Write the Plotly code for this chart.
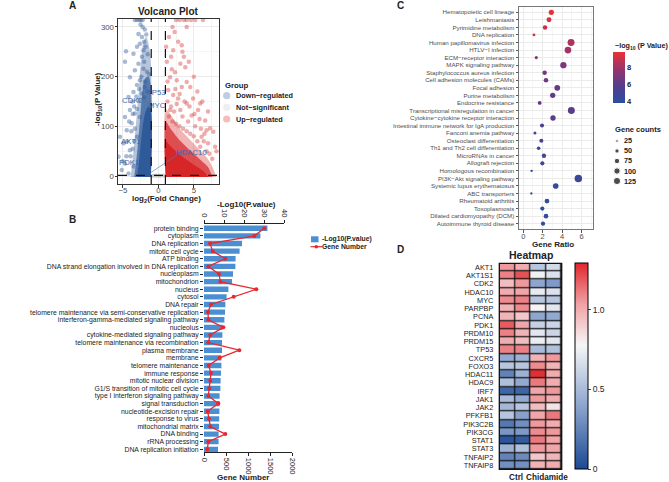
import plotly.graph_objects as go
import numpy as np

W, H = 669, 482
FONT = "Liberation Sans, Arial, sans-serif"


def fx(p):
    return p / W


def fy(p):
    return 1 - p / H


# ---------------- Panel A : volcano ----------------
down_x = [-3.3, -3.0, -2.7, -2.45, -2.2, -2.8, -2.3, -2.6, -3.0, -2.1, -4.55, -3.5, -2.3, -4.7, -2.8,
          -3.3, -2.1, -4.0, -2.6, -3.0, -1.9, -3.5, -2.3, -4.2, -2.8, -4.0, -3.3, -4.7, -2.6, -3.75,
          -4.45, -5.4, -3.0, -4.9, -4.0, -5.6, -4.7, -3.5, -5.15, -4.2, -1.8, -1.5, -2.0, -1.6, -1.3,
          -2.4, -1.9, -2.7, -1.5, -3.1, -2.0, -3.4, -3.0, -3.7, -2.2, -1.9, -2.5, -2.0, -1.7, -3.8,
          -3.4, -3.9, -3.6, -4.4, -3.3, -4.1, -3.6, -5.0, -4.5]
down_y = [314, 314, 314, 314, 314, 286, 280, 266, 260, 253, 251, 246, 240, 230, 226,
          213, 216, 199, 193, 183, 179, 169, 166, 159, 153, 133, 126, 119, 119, 106,
          92, 79, 79, 66, 52, 39, 25, 19, 12, 5, 260, 245, 230, 210, 205,
          200, 190, 175, 170, 160, 158, 140, 135, 150, 300, 295, 305, 270, 285, 90,
          70, 40, 55, 70, 95, 110, 125, 30, 40]
up_x = [2.5, 3.0, 3.6, 4.0, 4.6, 5.2, 6.3, 4.0, 3.3, 2.1, 3.4, 3.1, 3.8, 2.35, 1.65, 2.6, 4.0, 3.3,
        4.5, 1.4, 2.1, 2.8, 4.9, 4.0, 5.9, 5.6, 3.1, 1.65, 4.7, 6.6, 7.3, 6.8, 7.75, 6.1, 7.0, 8.0,
        5.9, 1.5, 2.0, 2.5, 3.0, 3.5, 4.0, 4.5, 5.0, 5.5, 2.2, 3.4, 4.2, 1.8, 2.6, 5.2, 6.0, 6.5,
        1.3, 1.2, 1.5, 2.0, 2.8, 3.6, 4.3, 5.0, 5.5, 6.2, 7.0, 1.1, 2.4, 3.0, 3.7, 4.4, 5.1, 5.8,
        6.4, 7.2, 7.6, 6.8, 8.2, 1.8, 2.3, 1.3, 1.9]
up_y = [314, 314, 314, 314, 314, 314, 314, 300, 263, 253, 250, 226, 219, 209, 199, 193, 189, 179,
        179, 173, 163, 156, 156, 146, 146, 133, 133, 133, 122, 112, 96, 92, 89, 79, 66, 59,
        59, 120, 110, 105, 100, 95, 90, 85, 80, 70, 130, 120, 110, 140, 145, 100, 95, 85,
        150, 230, 280, 300, 270, 240, 230, 200, 170, 150, 130, 260, 175, 165, 150, 140, 125, 115,
        70, 45, 35, 50, 50, 240, 290, 190, 215]
ns_x = [-0.8, -0.5, -0.2, 0.1, 0.4, 0.7, -0.9, 0.9, -0.3, 0.2]
ns_y = [0.5, 0.9, 0.3, 1.0, 0.6, 1.1, 0.2, 0.4, 1.2, 0.1]

# outlines of the densely packed parts of each group
down_outer_x = [-1.05, -1.05, -1.3, -1.7, -2.1, -2.4, -2.7, -3.0, -3.3, -3.6, -3.9]
down_outer_y = [-2, 230, 260, 280, 270, 235, 180, 130, 80, 35, -2]
down_mid_x = [-1.05, -1.05, -1.4, -1.9, -2.3, -2.6, -2.9, -3.2, -3.4]
down_mid_y = [-2, 180, 200, 195, 160, 110, 60, 20, -2]
down_core_x = [-1.05, -1.05, -1.4, -1.8, -2.2, -2.5, -2.8, -3.0]
down_core_y = [-2, 130, 140, 130, 100, 60, 20, -2]
up_outer_x = [1.05, 1.05, 1.4, 2.0, 2.6, 3.2, 4.0, 5.0, 6.0, 6.8, 7.5, 8.0, 8.1]
up_outer_y = [-2, 135, 130, 118, 105, 92, 80, 65, 50, 38, 22, 5, -2]
up_mid_x = [1.05, 1.05, 1.5, 2.0, 3.0, 4.0, 5.0, 6.0, 7.0, 7.6]
up_mid_y = [-2, 110, 100, 90, 72, 58, 45, 32, 18, -2]
up_core_x = [1.05, 1.05, 1.6, 2.5, 3.5, 4.5, 5.5, 6.5, 7.0]
up_core_y = [-2, 70, 62, 50, 38, 28, 18, 8, -2]

label_genes = ["TP53", "MYC", "CDK2", "AKT1", "PDK1", "HDAC10"]
label_x = [-0.23, -0.23, -3.63, -3.89, -4.13, 4.7]
label_y = [169, 141, 153, 70, 27, 47]
seg_x = [-1.15, 3.0]
seg_y = [6, 46]

# ---------------- Panel B : GO bars ----------------
go_terms = ["protein binding", "cytoplasm", "DNA replication", "mitotic cell cycle", "ATP binding",
            "DNA strand elongation involved in DNA replication", "nucleoplasm", "mitochondrion",
            "nucleus", "cytosol", "DNA repair",
            "telomere maintenance via semi-conservative replication",
            "interferon-gamma-mediated signaling pathway", "nucleolus",
            "cytokine-mediated signaling pathway", "telomere maintenance via recombination",
            "plasma membrane", "membrane", "telomere maintenance", "immune response",
            "mitotic nuclear division", "G1/S transition of mitotic cell cycle",
            "type I interferon signaling pathway", "signal transduction",
            "nucleotide-excision repair", "response to virus", "mitochondrial matrix",
            "DNA binding", "rRNA processing", "DNA replication initiation"]
go_logp = [31.7, 28.2, 19.0, 17.8, 15.8, 15.7, 14.5, 14.0, 12.2, 11.3, 10.7, 10.5, 10.2, 9.3, 9.2,
           9.0, 9.0, 8.7, 8.7, 8.5, 8.3, 8.2, 7.8, 7.8, 7.7, 7.6, 7.5, 7.3, 7.3, 7.0]
go_genes = [1366, 1140, 136, 196, 483, 98, 340, 370, 1185, 672, 158, 90, 98, 438, 143, 98, 800,
            355, 105, 158, 143, 120, 98, 325, 83, 113, 143, 483, 98, 75]

# ---------------- Panel C : KEGG dots ----------------
kegg_terms = ["Hematopoietic cell lineage", "Leishmaniasis", "Pyrimidine metabolism",
              "DNA replication", "Human papillomavirus infection", "HTLV\u2212I infection",
              "ECM\u2212receptor interaction", "MAPK signaling pathway",
              "Staphylococcus aureus infection", "Cell adhesion molecules (CAMs)",
              "Focal adhesion", "Purine metabolism", "Endocrine resistance",
              "Transcriptional misregulation in cancer",
              "Cytokine\u2212cytokine receptor interaction",
              "Intestinal immune network for IgA production", "Fanconi anemia pathway",
              "Osteoclast differentiation", "Th1 and Th2 cell differentiation",
              "MicroRNAs in cancer", "Allograft rejection", "Homologous recombination",
              "PI3K\u2212Akt signaling pathway", "Systemic lupus erythematosus",
              "ABC transporters", "Rheumatoid arthritis", "Toxoplasmosis",
              "Dilated cardiomyopathy (DCM)", "Autoimmune thyroid disease"]
kegg_ratio = [2.89, 2.65, 2.24, 1.1, 4.92, 4.6, 1.34, 4.13, 2.2, 2.34, 3.5, 3.03, 1.69, 4.95, 3.06,
              1.93, 1.2, 1.86, 1.58, 2.13, 1.96, 0.86, 5.67, 3.34, 0.83, 2.44, 1.96, 2.34, 2.03]
kegg_count = [69, 64, 54, 26, 118, 110, 32, 99, 53, 56, 84, 73, 41, 119, 73, 46, 29, 45, 38, 51,
              47, 21, 136, 80, 20, 59, 47, 56, 49]
kegg_logp = [9.6, 9.3, 9.0, 9.2, 8.3, 8.0, 7.3, 7.0, 6.7, 6.6, 6.4, 6.2, 6.0, 5.9, 5.8, 5.5, 5.3,
             5.2, 5.0, 4.9, 4.8, 4.6, 4.5, 4.4, 4.3, 4.2, 4.1, 4.0, 3.9]
size_legend = [25, 50, 75, 100, 125]

# ---------------- Panel D : heatmap ----------------
hm_genes = ["AKT1", "AKT1S1", "CDK2", "HDAC10", "MYC", "PARPBP", "PCNA", "PDK1", "PRDM10",
            "PRDM15", "TP53", "CXCR5", "FOXO3", "HDAC11", "HDAC9", "IRF7", "JAK1", "JAK2",
            "PFKFB1", "PIK3C2B", "PIK3CG", "STAT1", "STAT3", "TNFAIP2", "TNFAIP8"]
hm_groups = ["Ctrl", "Chidamide"]
hm_values = [
    [1.05, 1.00, 0.55, 0.65],
    [1.10, 1.20, 0.75, 0.68],
    [0.95, 1.05, 0.40, 0.35],
    [1.00, 1.02, 0.72, 0.68],
    [1.08, 1.10, 0.55, 0.55],
    [0.98, 1.08, 0.78, 0.70],
    [0.98, 0.92, 0.40, 0.42],
    [1.18, 1.02, 0.60, 0.62],
    [1.10, 0.98, 0.70, 0.62],
    [1.00, 0.95, 0.73, 0.70],
    [1.10, 1.10, 0.50, 0.52],
    [0.42, 0.45, 0.98, 1.05],
    [0.55, 0.55, 1.08, 0.98],
    [0.25, 0.45, 1.27, 1.00],
    [0.52, 0.42, 1.12, 1.00],
    [0.12, 0.12, 1.02, 1.05],
    [0.50, 0.42, 1.05, 1.00],
    [0.48, 0.55, 0.95, 0.83],
    [0.55, 0.38, 1.02, 1.12],
    [0.20, 0.30, 1.05, 1.00],
    [0.33, 0.35, 1.08, 1.05],
    [0.05, 0.08, 1.12, 1.02],
    [0.45, 0.52, 1.05, 1.02],
    [0.25, 0.28, 0.92, 0.97],
    [0.30, 0.30, 0.98, 1.00],
]

# ------------------------------------------------------------
fig = go.Figure()

DOWN = "rgba(45,88,152,{})"
UP = "rgba(214,36,38,{})"

# A traces
fig.add_trace(go.Scatter(x=ns_x, y=ns_y, mode="markers", marker=dict(size=4, color="rgba(190,190,190,0.5)"),
                         hoverinfo="skip", showlegend=False, xaxis="x", yaxis="y"))
polys = [(down_outer_x, down_outer_y, DOWN.format(0.35)), (up_outer_x, up_outer_y, UP.format(0.35)),
         (down_mid_x, down_mid_y, DOWN.format(0.7)), (up_mid_x, up_mid_y, UP.format(0.7)),
         (down_core_x, down_core_y, DOWN.format(0.95)), (up_core_x, up_core_y, UP.format(0.95))]
for px_, py_, col in polys:
    fig.add_trace(go.Scatter(x=px_, y=py_, fill="toself", fillcolor=col, line=dict(width=0), mode="lines",
                             line_shape="spline", hoverinfo="skip", showlegend=False, xaxis="x", yaxis="y"))
fig.add_trace(go.Scatter(x=down_x, y=down_y, mode="markers", marker=dict(size=4.5, color=DOWN.format(0.42)),
                         hoverinfo="skip", showlegend=False, xaxis="x", yaxis="y"))
fig.add_trace(go.Scatter(x=up_x, y=up_y, mode="markers", marker=dict(size=4.5, color=UP.format(0.38)),
                         hoverinfo="skip", showlegend=False, xaxis="x", yaxis="y"))
fig.add_trace(go.Scatter(x=seg_x, y=seg_y, mode="lines", line=dict(color="rgba(80,120,180,0.8)", width=0.8),
                         hoverinfo="skip", showlegend=False, xaxis="x", yaxis="y"))

# B traces
fig.add_trace(go.Bar(x=go_logp, y=go_terms, orientation="h", marker=dict(color="#4b8fd3", line=dict(width=0)),
                     width=0.7, showlegend=False, xaxis="x3", yaxis="y3"))
fig.add_trace(go.Scatter(x=go_genes, y=go_terms, mode="lines+markers", line=dict(color="#e8272e", width=1.3),
                         marker=dict(size=4, color="#e8272e"), showlegend=False, xaxis="x4", yaxis="y3"))

# C traces
cs_c = [[0, "#2b4ea0"], [0.35, "#573d8c"], [0.65, "#953370"], [1, "#ea3134"]]
diam = [float(np.sqrt(max(0.437 * c - 3.4, 1.0))) for c in kegg_count]
fig.add_trace(go.Scatter(x=kegg_ratio, y=kegg_terms, mode="markers",
                         marker=dict(size=diam, color=kegg_logp, colorscale=cs_c, cmin=3.75, cmax=9.8,
                                     line=dict(width=0), opacity=1,
                                     colorbar=dict(x=fx(613), xanchor="left", y=fy(52), yanchor="top",
                                                   len=51, lenmode="pixels", thickness=12,
                                                   thicknessmode="pixels", outlinewidth=0,
                                                   tickvals=[4, 6, 8], ticks="", xpad=0, ypad=0,
                                                   tickfont=dict(size=7.5, color="#222", weight="bold",
                                                                 family=FONT))),
                         showlegend=False, xaxis="x2", yaxis="y2"))
leg_diam = [float(np.sqrt(max(0.437 * c - 3.4, 1.0))) for c in size_legend]
fig.add_trace(go.Scatter(x=[0] * len(size_legend), y=list(range(len(size_legend))), mode="markers",
                         marker=dict(size=leg_diam, color="black"), hoverinfo="skip", showlegend=False,
                         xaxis="x6", yaxis="y6"))

# D heatmap
cs_d = [[0, "#1c4a93"], [0.3, "#8aa3cc"], [0.6, "#f6f6f7"], [0.8, "#f0a2a5"], [1, "#e0262c"]]
fig.add_trace(go.Heatmap(z=hm_values, x=[0, 1, 2, 3], y=hm_genes, colorscale=cs_d, zmin=0, zmax=1.29,
                         xgap=1.2, ygap=1.2,
                         colorbar=dict(x=fx(575), xanchor="left", y=fy(263.3), yanchor="top", len=206,
                                       lenmode="pixels", thickness=12.7, thicknessmode="pixels",
                                       outlinewidth=1, outlinecolor="#000", tickvals=[0, 0.5, 1.0],
                                       ticktext=["0", "0.5", "1.0"], ticks="outside", ticklen=3,
                                       xpad=0, ypad=0,
                                       tickfont=dict(size=8.5, color="#222", family=FONT)),
                         xaxis="x5", yaxis="y5"))

# ---------------- layout ----------------
GRID = "#ebebeb"
MINOR = "#f5f5f5"
layout = dict(
    width=W, height=H, margin=dict(l=0, r=0, t=0, b=0, pad=0), template="none",
    paper_bgcolor="white", plot_bgcolor="rgba(0,0,0,0)", font=dict(family=FONT, color="#222"),
    showlegend=False,
    xaxis=dict(domain=[fx(118), fx(219)], range=[-5.68, 8.55], anchor="y", tickvals=[-5, 0, 5],
               ticks="outside", ticklen=2.5, tickcolor="#333", showgrid=True, gridcolor=GRID,
               ticklabelstandoff=-4,
               minor=dict(tickvals=[-2.5, 2.5, 7.5], showgrid=True, gridcolor=MINOR, ticks=""),
               showline=True, mirror=True, linecolor="#333", linewidth=1, zeroline=False,
               tickfont=dict(size=7.8, color="#4d4d4d"), automargin=False),
    yaxis=dict(domain=[fy(184), fy(19)], range=[-16, 316], anchor="x", tickvals=[0, 100, 200, 300],
               ticks="outside", ticklen=2.5, tickcolor="#333", showgrid=True, gridcolor=GRID,
               ticklabelstandoff=-1,
               minor=dict(tickvals=[50, 150, 250], showgrid=True, gridcolor=MINOR, ticks=""),
               showline=True, mirror=True, linecolor="#333", linewidth=1, zeroline=False,
               tickfont=dict(size=7.8, color="#4d4d4d"), automargin=False),
    xaxis2=dict(domain=[fx(519), fx(593)], range=[-0.44, 7.18], anchor="y2", tickvals=[0, 2, 4, 6],
                ticks="outside", ticklen=2.5, tickcolor="#555", showgrid=True, gridcolor=GRID,
                ticklabelstandoff=-3,
                minor=dict(tickvals=[1, 3, 5, 7], showgrid=True, gridcolor=MINOR, ticks=""),
                showline=True, mirror=True, linecolor="#777", linewidth=1, zeroline=False,
                tickfont=dict(size=7.5, color="#4d4d4d"), automargin=False),
    yaxis2=dict(domain=[fy(229), fy(7)], range=[28.7, -0.7], anchor="x2", type="category",
                tickmode="array", tickvals=kegg_terms, ticktext=kegg_terms,
                ticks="outside", ticklen=2.5, tickcolor="#555", showgrid=True, gridcolor=GRID,
                showline=True, mirror=True, linecolor="#777", linewidth=1, zeroline=False,
                tickfont=dict(size=6.15, color="#4d4d4d"), automargin=False),
    xaxis3=dict(domain=[fx(204), fx(284)], range=[0, 40], anchor="y3", side="top",
                tickvals=[0, 10, 20, 30, 40], tickangle=90, ticks="outside", ticklen=3,
                tickcolor="#222", showline=True, linecolor="#222", linewidth=1, showgrid=False,
                zeroline=False, tickfont=dict(size=7.5, color="#222"), automargin=False),
    xaxis4=dict(domain=[fx(204), fx(292.3)], range=[0, 2000], anchor="y3", side="bottom",
                tickvals=[0, 500, 1000, 1500, 2000], tickangle=90, ticks="outside", ticklen=3,
                tickcolor="#222", showline=True, linecolor="#222", linewidth=1, showgrid=False,
                zeroline=False, tickfont=dict(size=7.5, color="#222"), automargin=False),
    yaxis3=dict(domain=[fy(452.3), fy(224)], range=[29.39, -0.56], anchor="x3", type="category",
                tickmode="array", tickvals=go_terms, ticktext=go_terms,
                ticks="outside", ticklen=3, tickcolor="#222", showline=False, showgrid=False,
                zeroline=False, tickfont=dict(size=6.85, color="#222"), automargin=False),
    xaxis5=dict(domain=[fx(499.3), fx(561.7)], range=[-0.5, 3.5], anchor="y5", showticklabels=False,
                ticks="", showgrid=False, zeroline=False, showline=False, automargin=False),
    yaxis5=dict(domain=[fy(469.3), fy(263.3)], range=[24.5, -0.5], anchor="x5", type="category",
                tickmode="array", tickvals=hm_genes, ticktext=hm_genes,
                ticks="", ticklabelstandoff=5, showgrid=False, zeroline=False, showline=False,
                tickfont=dict(size=7.3, color="#222"), automargin=False),
    xaxis6=dict(domain=[fx(610), fx(624)], range=[-1, 1], anchor="y6", visible=False),
    yaxis6=dict(domain=[fy(186), fy(136)], range=[4.5, -0.5], anchor="x6", visible=False),
)
fig.update_layout(**layout)

shapes = []
# volcano thresholds
for v in [-1, 1]:
    shapes.append(dict(type="line", xref="x", yref="y domain", x0=v, x1=v, y0=0, y1=1,
                       line=dict(color="#111", width=1.2, dash="dash")))
shapes.append(dict(type="line", xref="x domain", yref="y", x0=0, x1=1, y0=1.3, y1=1.3,
                   line=dict(color="#111", width=1.2, dash="dash")))
# heatmap black grid behind cells and frame
shapes.append(dict(type="rect", xref="x5 domain", yref="y5 domain", x0=0, x1=1, y0=0, y1=1,
                   fillcolor="#111", line=dict(width=0), layer="below"))
shapes.append(dict(type="rect", xref="x5 domain", yref="y5 domain", x0=0, x1=1, y0=0, y1=1,
                   line=dict(color="#111", width=1.3)))


def circ(cx, cy, r, color):
    return dict(type="circle", xref="paper", yref="paper", x0=fx(cx - r), x1=fx(cx + r),
                y0=fy(cy + r), y1=fy(cy - r), fillcolor=color, line=dict(width=0))


# volcano legend symbols
shapes.append(circ(226.7, 95.7, 3.6, "rgba(45,88,152,0.3)"))
shapes.append(circ(226.7, 107.3, 3.6, "rgba(200,200,200,0.3)"))
shapes.append(circ(226.7, 119.0, 3.6, "rgba(214,36,38,0.3)"))
# GO legend symbols
shapes.append(dict(type="rect", xref="paper", yref="paper", x0=fx(311), x1=fx(318.5), y0=fy(242.3),
                   y1=fy(236.3), fillcolor="#4b8fd3", line=dict(width=0)))
shapes.append(dict(type="line", xref="paper", yref="paper", x0=fx(310.5), x1=fx(322), y0=fy(246.7),
                   y1=fy(246.7), line=dict(color="#e8272e", width=1.2)))
shapes.append(circ(316.3, 246.7, 1.8, "#e8272e"))
fig.update_layout(shapes=shapes)

ann = []


def A(text, x, y, size, xanchor="center", yanchor="middle", color="#222", angle=0, xref="paper",
      yref="paper"):
    if xref == "paper":
        x = fx(x)
    if yref == "paper":
        y = fy(y)
    ann.append(dict(text=text, x=x, y=y, xref=xref, yref=yref, xanchor=xanchor, yanchor=yanchor,
                    showarrow=False, textangle=angle, font=dict(size=size, color=color, family=FONT)))


# panel letters
A("<b>A</b>", 72, 5.7, 10)
A("<b>B</b>", 72, 220, 10)
A("<b>C</b>", 400, 5.7, 10)
A("<b>D</b>", 400, 249, 10)
# A titles
A("<b>Volcano Plot</b>", 168, 11.5, 10)
A("<b>-log<sub>10</sub>(P Value)</b>", 98, 99, 7.8, angle=-90)
A("<b>log<sub>2</sub>(Fold Change)</b>", 166, 198.5, 8)
A("<b>Group</b>", 222.5, 85, 7.8, xanchor="left")
for t, yy in zip(["Down\u2212regulated", "Not\u2212significant", "Up\u2212regulated"], [95.7, 107.3, 119.0]):
    A("<b>" + t + "</b>", 233.5, yy, 7.3, xanchor="left")
for g, xx, yy in zip(label_genes, label_x, label_y):
    A(g, xx, yy, 7.8, color="#3d6aa8", xref="x", yref="y")
# B titles
A("<b>-Log10(P.value)</b>", 247, 204, 8)
A("<b>Gene Number</b>", 243, 477, 8)
A("<b>-Log10(P.value)</b>", 320, 239.3, 6.8, xanchor="left")
A("<b>Gene Number</b>", 320, 247, 6.8, xanchor="left")
# C titles
A("<b>Gene Ratio</b>", 552.5, 244, 8)
A("<b>\u2212log<sub>10</sub> (P Value)</b>", 612.5, 46, 7.2, xanchor="left")
A("<b>Gene counts</b>", 613, 130, 7.6, xanchor="left")
for i, c in enumerate(size_legend):
    A("<b>" + str(c) + "</b>", 621.7, 140.7 + i * 10.1, 7.3, xanchor="left")
# D titles
A("<b>Heatmap</b>", 531, 255, 10.5)
A("<b>Ctrl</b>", 515.5, 477.7, 8.2)
A("<b>Chidamide</b>", 546.8, 477.7, 8.2)
fig.update_layout(annotations=ann)

fig.write_html("out.html", config={"displayModeBar": False},
               post_script="document.body.style.margin='0';document.body.style.padding='0';")
